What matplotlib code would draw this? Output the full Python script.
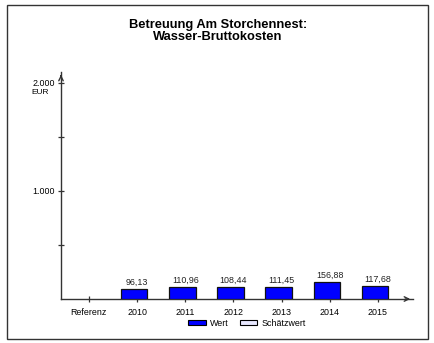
import matplotlib
matplotlib.use("Agg")
import matplotlib.pyplot as plt
from matplotlib.patches import Rectangle, Patch

plt.rcParams['font.family'] = ['Liberation Sans', 'DejaVu Sans']

categories = ["Referenz", "2010", "2011", "2012", "2013", "2014", "2015"]
values = [None, 96.13, 110.96, 108.44, 111.45, 156.88, 117.68]
value_labels = ["", "96,13", "110,96", "108,44", "111,45", "156,88", "117,68"]
title = "Betreuung Am Storchennest:\nWasser-Bruttokosten"

fig = plt.figure(figsize=(4.35, 3.43), dpi=100)
W, H = 435, 343
ax = fig.add_axes([61 / W, 1 - 299 / H, (413 - 61) / W, (299 - 72) / H])

xs = list(range(len(categories)))
for x, v, lab in zip(xs, values, value_labels):
    if v is None:
        continue
    ax.bar(x - 0.06, v, width=0.55, color="#0000ff", edgecolor="#111111", linewidth=0.9, zorder=3)
    ax.annotate(lab, (x, v), xytext=(0, 1.5), textcoords="offset points",
                ha="center", va="bottom", fontsize=6.4, color="#222222")

ax.set_xlim(-0.58, 6.73)
ax.set_ylim(0, 2100)
for s in ["top", "right"]:
    ax.spines[s].set_visible(False)
ax.spines["left"].set_color("#333333")
ax.spines["bottom"].set_color("#333333")
ax.spines["left"].set_linewidth(1.0)
ax.spines["bottom"].set_linewidth(1.0)

# arrows at the axis ends
ax.annotate("", xy=(0, 1.0), xytext=(0, 0.97), xycoords="axes fraction",
            arrowprops=dict(arrowstyle="->", color="#333333", lw=1.0, mutation_scale=8))
ax.annotate("", xy=(1.0, 0), xytext=(0.97, 0), xycoords="axes fraction",
            arrowprops=dict(arrowstyle="->", color="#333333", lw=1.0, mutation_scale=8))

ax.set_xticks(xs)
ax.set_xticklabels(categories, fontsize=6.4)
ax.set_yticks([1000, 2000])
ax.set_yticklabels(["1.000", "2.000"], fontsize=6.4)
ax.set_yticks([500, 1500], minor=True)
ax.tick_params(axis="both", which="both", direction="inout", length=5, width=0.9, color="#333333", pad=2)
ax.tick_params(axis="x", pad=4)
ax.text(-0.058, 2000 - 55, "EUR", transform=ax.get_yaxis_transform(), ha="center", va="top", fontsize=6.0)

fig.text(218 / W, 1 - 31 / H, title, ha="center", va="center", fontsize=9.3, fontweight="bold",
         linespacing=1.1)

handles = [Patch(facecolor="#0000ff", edgecolor="black", linewidth=0.8),
           Patch(facecolor="#e8e8ff", edgecolor="black", linewidth=0.8)]
fig.legend(handles, ["Wert", "Schätzwert"], loc="center", bbox_to_anchor=(247 / W, 1 - 323 / H),
           ncol=2, frameon=False, fontsize=6.4, handlelength=2.0, handleheight=0.55,
           columnspacing=1.2, handletextpad=0.5)

fig.patches.append(Rectangle((7 / W, 1 - 339 / H), (428 - 7) / W, (339 - 5) / H,
                             transform=fig.transFigure, fill=False, edgecolor="#333333", linewidth=1.0))

fig.savefig("out.png", dpi=100, facecolor="white")
